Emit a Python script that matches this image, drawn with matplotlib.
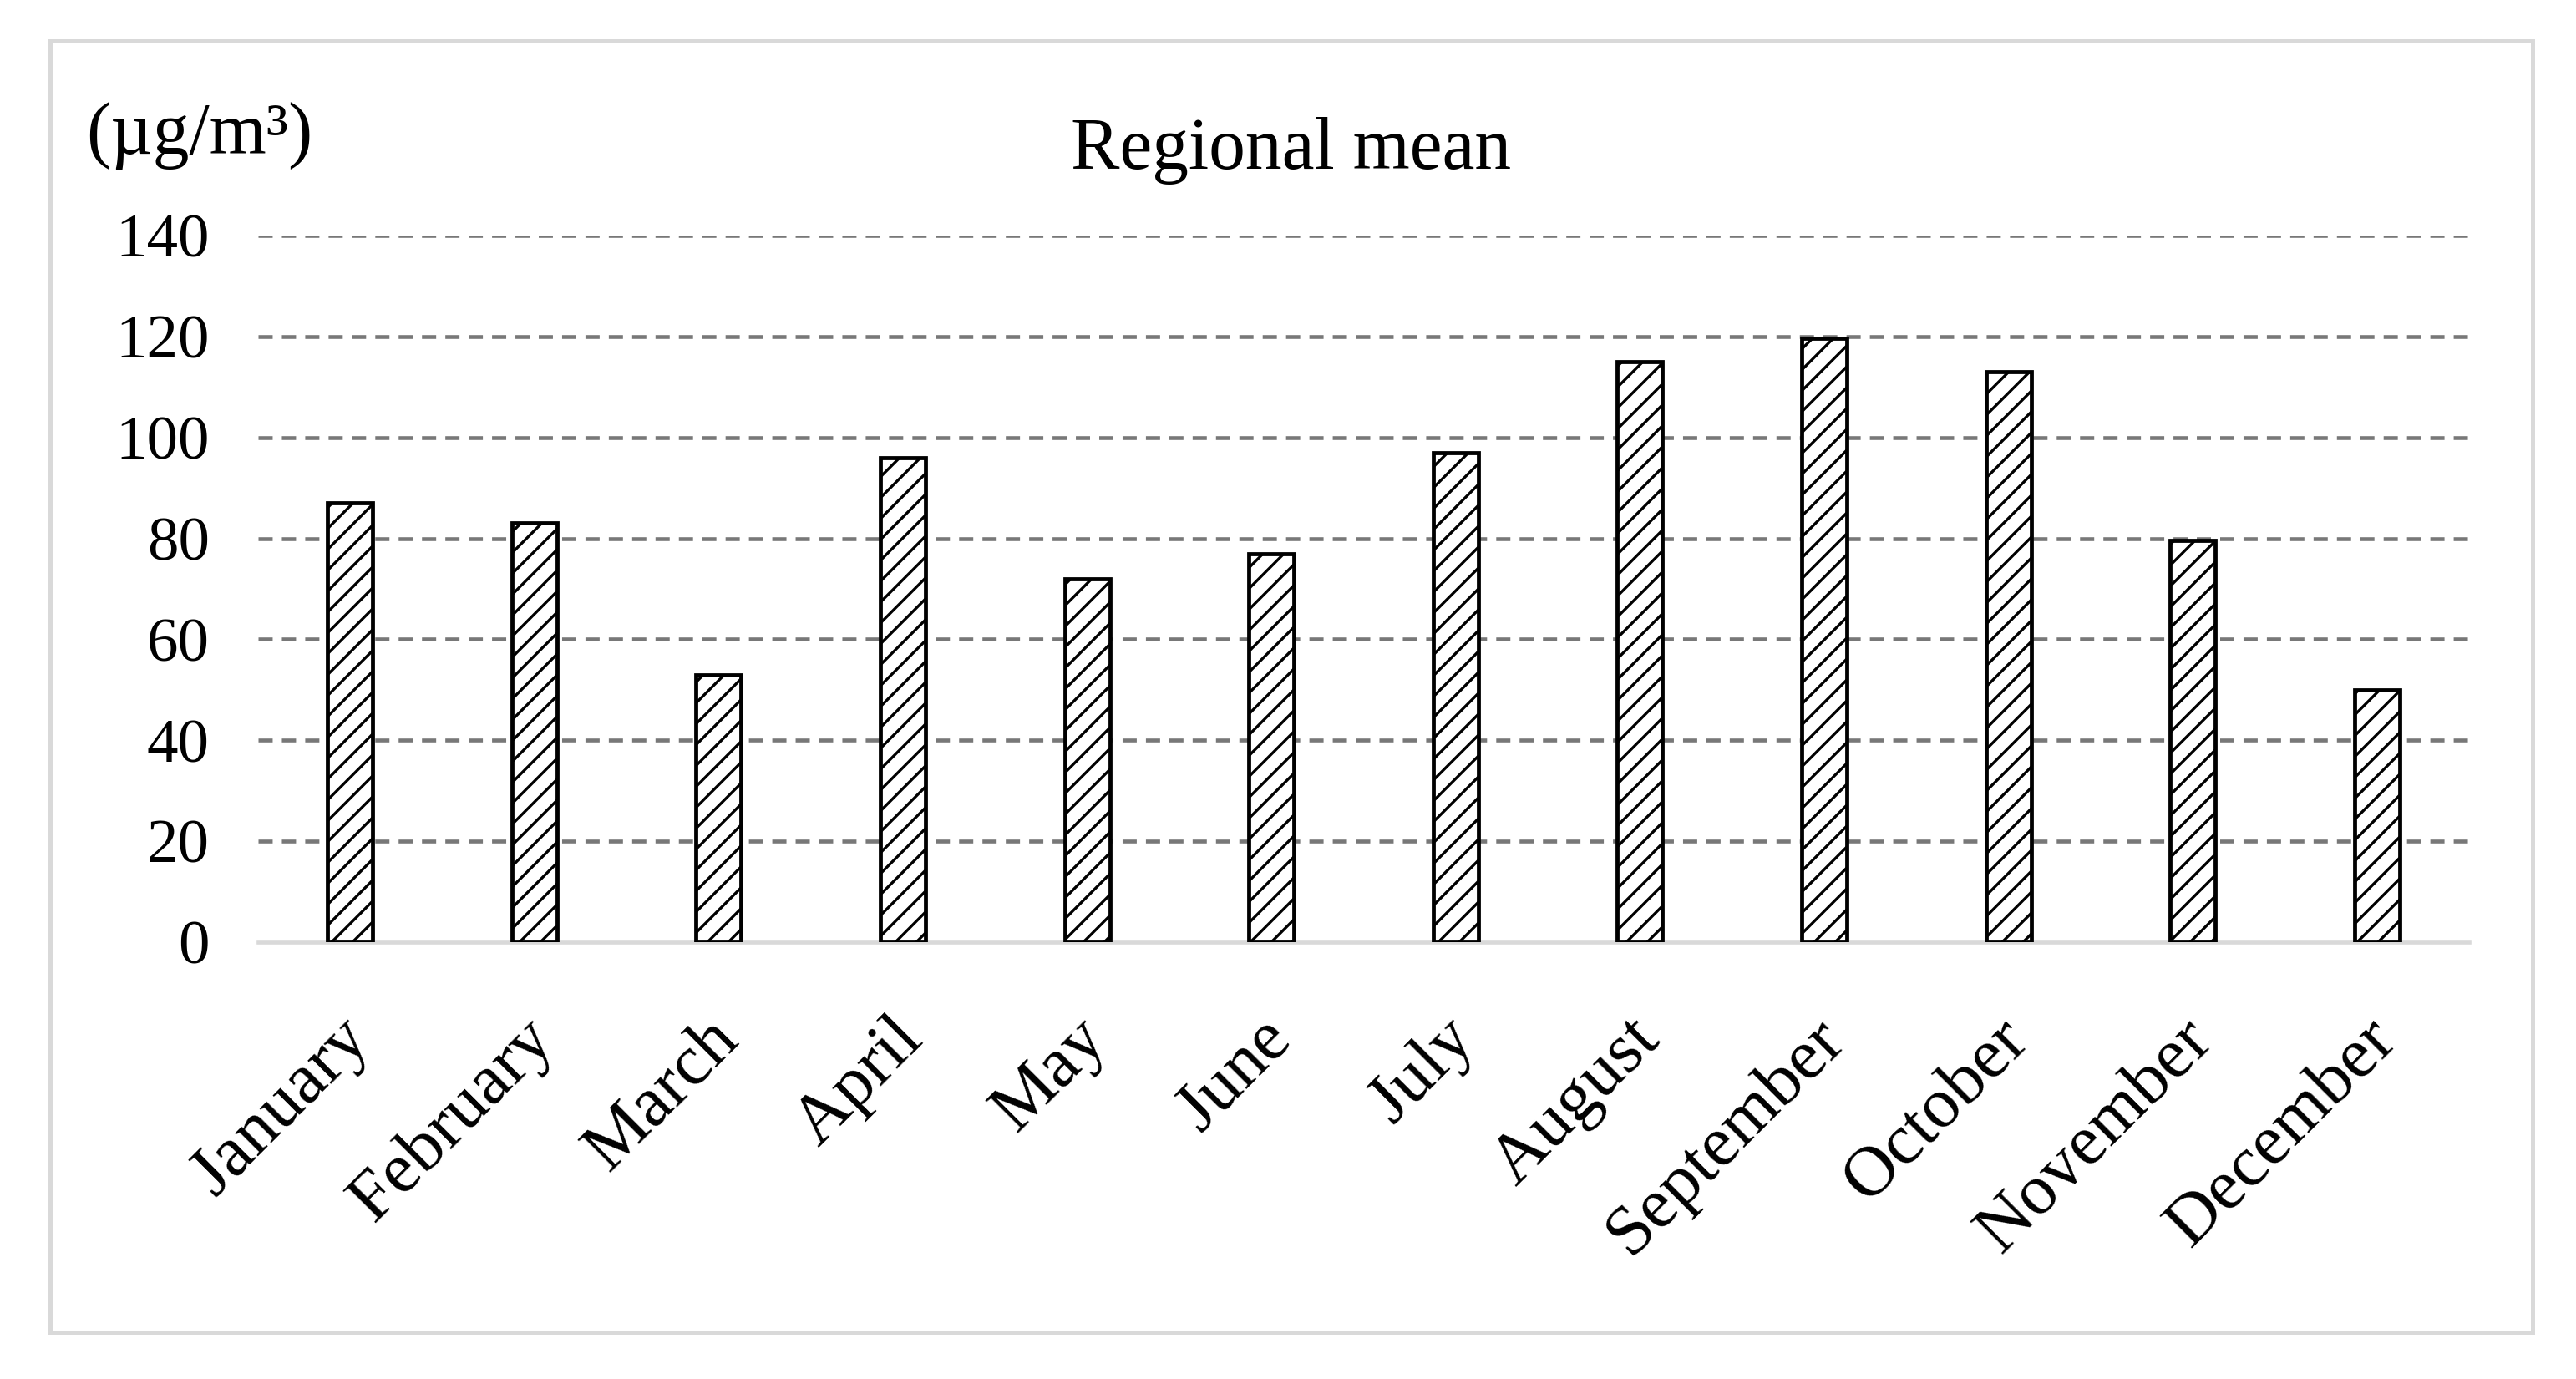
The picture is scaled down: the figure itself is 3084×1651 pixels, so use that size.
import matplotlib
matplotlib.use("Agg")
import matplotlib.pyplot as plt
from matplotlib.patches import Rectangle
from matplotlib.transforms import ScaledTranslation
import numpy as np

months = ["January", "February", "March", "April", "May", "June", "July",
          "August", "September", "October", "November", "December"]
values = [87, 83, 53, 96, 72, 77, 97, 115, 119.6, 113, 79.6, 50]
yticks = [0, 20, 40, 60, 80, 100, 120, 140]
title = "Regional mean"
unit_label = "(\u00b5g/m\u00b3)"

plt.rcParams['font.family'] = ['Liberation Serif', 'DejaVu Serif']
plt.rcParams['hatch.linewidth'] = 1.6
plt.rcParams['hatch.color'] = 'black'

W, H, DPI = 3084, 1651, 150
fig = plt.figure(figsize=(W / DPI, H / DPI), dpi=DPI)
fig.patch.set_facecolor('white')

# outer light-gray frame
fig.patches.append(Rectangle((60 / W, 1 - 1595 / H), (3032 - 60) / W, (1595 - 49) / H,
                             transform=fig.transFigure, fill=False,
                             edgecolor='#d9d9d9', linewidth=2.4, zorder=0))

left, right = 309 / W, 2956 / W
bottom, top = 1 - 1128 / H, 1 - 282 / H
ax = fig.add_axes([left, bottom, right - left, top - bottom])
ax.set_facecolor('none')

x = np.arange(len(months))
ax.bar(x, values, width=0.245, facecolor='white', edgecolor='black',
       linewidth=2.3, hatch='//', zorder=3)

ax.set_xlim(-0.5, len(months) - 0.5)
ax.set_ylim(0, 140)
ax.set_yticks(yticks)
ax.set_yticklabels([str(v) for v in yticks])

for v in yticks[1:]:
    ax.axhline(v, color='#787878', linewidth=2.2, dashes=(3.7, 2.4), zorder=1)
ax.axhline(0, color='#d9d9d9', linewidth=2.2, zorder=2, clip_on=False)

for s in ax.spines.values():
    s.set_visible(False)

ax.tick_params(axis='y', length=0, pad=28, labelsize=36, labelcolor='black')
ax.set_xticks(x)
ax.set_xticklabels(months, rotation=45, ha='right', va='top',
                   rotation_mode='anchor', fontsize=41)
ax.tick_params(axis='x', length=0, pad=37)
offset = ScaledTranslation(-16 / DPI, 0, fig.dpi_scale_trans)
for lbl in ax.get_xticklabels():
    lbl.set_transform(lbl.get_transform() + offset)

fig.text(1546 / W, 1 - 202 / H, title, ha='center', va='baseline', fontsize=42)
fig.text(103 / W, 1 - 184 / H, unit_label, ha='left', va='baseline', fontsize=42)

fig.savefig('out.png', dpi=DPI, facecolor='white')
